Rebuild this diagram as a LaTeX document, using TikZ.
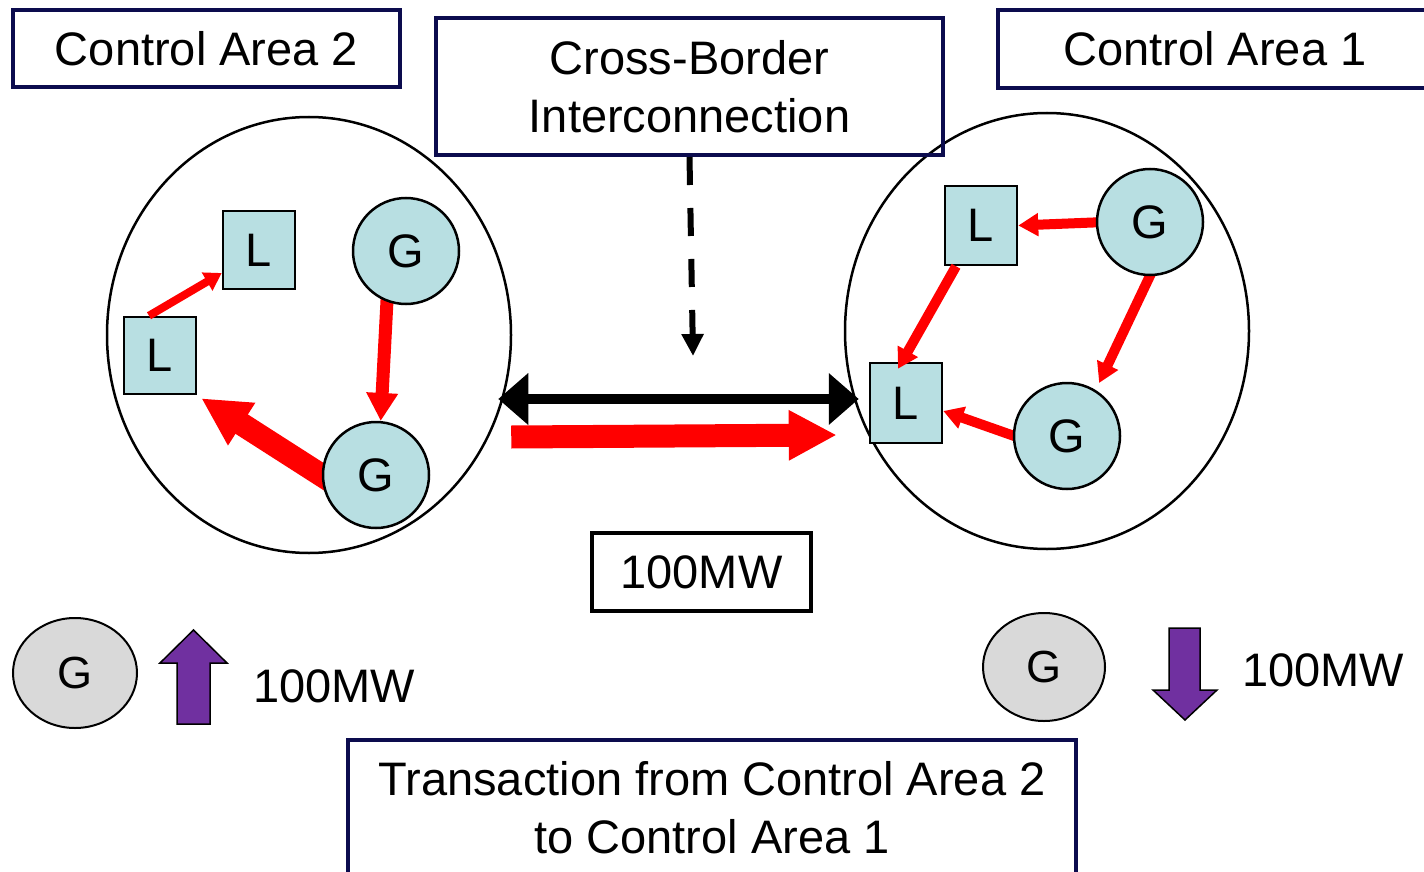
\documentclass[tikz,border=0pt]{standalone}
\usepackage{fontspec}
\setmainfont{Liberation Sans}
\usetikzlibrary{shapes.geometric,arrows.meta,calc}
\pgfdeclarelayer{bg}
\pgfsetlayers{bg,main}
\definecolor{navy}{HTML}{0C0C4E}
\definecolor{nodeblue}{HTML}{B8DFE2}
\definecolor{gengray}{HTML}{D9D9D9}
\definecolor{flowpurple}{HTML}{7030A0}
\definecolor{flowred}{HTML}{FF0000}
\tikzset{
  bigtip/.tip={Triangle[length=48pt,width=47pt]},
  midtip/.tip={Triangle[length=28pt,width=30pt]},
  smalltip/.tip={Triangle[length=20pt,width=22pt]},
  tinytip/.tip={Triangle[length=17pt,width=20pt]},
  blacktip/.tip={Triangle[length=30pt,width=50pt]},
  dashtip/.tip={Triangle[length=22pt,width=21pt]},
}
\begin{document}
\begin{tikzpicture}[x=1pt,y=-1pt,
  lbl/.style={font=\fontsize{47pt}{58pt}\selectfont},
  navybox/.style={lbl, draw=navy, line width=4pt, inner sep=0pt, align=center},
  area/.style={ellipse, draw=black, line width=2.5pt, inner sep=0pt, minimum width=404pt, minimum height=436pt},
  gen/.style={circle, draw=black, line width=2.5pt, fill=nodeblue, minimum size=106pt, inner sep=0pt, lbl},
  load/.style={rectangle, draw=black, line width=2.5pt, fill=nodeblue, minimum width=72pt, minimum height=78pt, inner sep=0pt, lbl},
  grayg/.style={ellipse, draw=black, line width=2pt, fill=gengray, inner sep=0pt, font=\fontsize{45pt}{54pt}\selectfont},
  thinflow/.style={draw=flowred, line width=10pt, -smalltip},
  tinyflow/.style={draw=flowred, line width=8pt, -tinytip},
  midflow/.style={draw=flowred, line width=13pt, -midtip},
  bigflow/.style={draw=flowred, line width=23pt, -bigtip},
  purplearrow/.style={draw=black, line width=1.5pt, fill=flowpurple, line join=miter},
]
\useasboundingbox (0,0) rectangle (1424,872);

% control areas
\node[area] (la) at (309,335) {};
\node[area] (ra) at (1047,331) {};

% header boxes
\node[navybox, minimum width=387pt, minimum height=77pt] (ca2) at (206.5,48.5) {Control Area 2};
\node[navybox, minimum width=507pt, minimum height=137pt] (cb) at (689.5,86.5) {Cross-Border\\Interconnection};
\node[navybox, minimum width=434pt, minimum height=78pt] (ca1) at (1215,49) {Control Area 1};

% left area nodes
\node[load, minimum height=78pt] (llt) at (259,250) {L};
\node[load, minimum height=77pt] (lll) at (160,355.5) {L};
\node[gen] (lgt) at (406,251) {G};
\node[gen] (lgb) at (376,475) {G};

% right area nodes
\node[load, minimum height=79pt] (rlt) at (981,225.5) {L};
\node[load, minimum height=80pt] (rlb) at (906,403) {L};
\node[gen] (rgt) at (1150,222) {G};
\node[gen] (rgb) at (1067,436) {G};

% flows starting at generators (under the generator circles)
\begin{pgfonlayer}{bg}
  \draw[midflow] ($(lgt.250)+(0,-10)$) -- (lgb.85);
  \draw[bigflow] ($(lgb.west)+(15,10)$) -- ($(lll.south east)+(4,3)$);
  \draw[thinflow] ($(rgt.west)+(10,0)$) -- (rlt.east);
  \draw[thinflow] ($(rgt.south)+(4,-9)$) -- ($(rgb.60)+(5,-6)$);
  \draw[thinflow] ($(rgb.west)+(10,3)$) -- ($(rlb.east)+(0,8)$);
\end{pgfonlayer}
\draw[tinyflow] ($(lll.north)+(-11,0)$) -- ($(llt.west)+(0,23)$);
\draw[thinflow] ($(rlt.south)+(-25,0)$) -- ($(rlb.north)+(-8,7)$);

% interconnection
\coordinate (dend) at (693,356);
\draw[black, line width=6pt, dash pattern=on 28pt off 23pt, -dashtip] (cb.south) -- (dend);
\draw[black, line width=10pt, blacktip-blacktip] ($(la.east)+(-14,64)$) -- ($(ra.west)+(15,68)$);
\draw[bigflow] ($(la.east)+(-1,102)$) -- ($(ra.west)+(-7,104)$);

\node[lbl, draw=black, line width=4pt, minimum width=219pt, minimum height=78pt, inner sep=0pt] (mw) at (701.5,572) {100MW};

% generation changes
\node[grayg, minimum width=124pt, minimum height=110pt] (gl) at (75,673) {G};
\draw[purplearrow] (160,663) -- (193.5,630) -- (227,663) -- (210,663) -- (210,724) -- (177,724) -- (177,663) -- cycle;
\node[lbl] (mwl) at (334,686) {100MW};

\node[grayg, minimum width=122pt, minimum height=108pt] (gr) at (1044,667) {G};
\draw[purplearrow] (1153,690) -- (1185,720) -- (1217,690) -- (1200,690) -- (1200,628) -- (1169,628) -- (1169,690) -- cycle;
\node[lbl] (mwr) at (1323,670) {100MW};

% transaction
\node[navybox, minimum width=728pt, minimum height=136pt, anchor=north] (tr) at (712,738) {Transaction from Control Area 2\\to Control Area 1};
\end{tikzpicture}
\end{document}
